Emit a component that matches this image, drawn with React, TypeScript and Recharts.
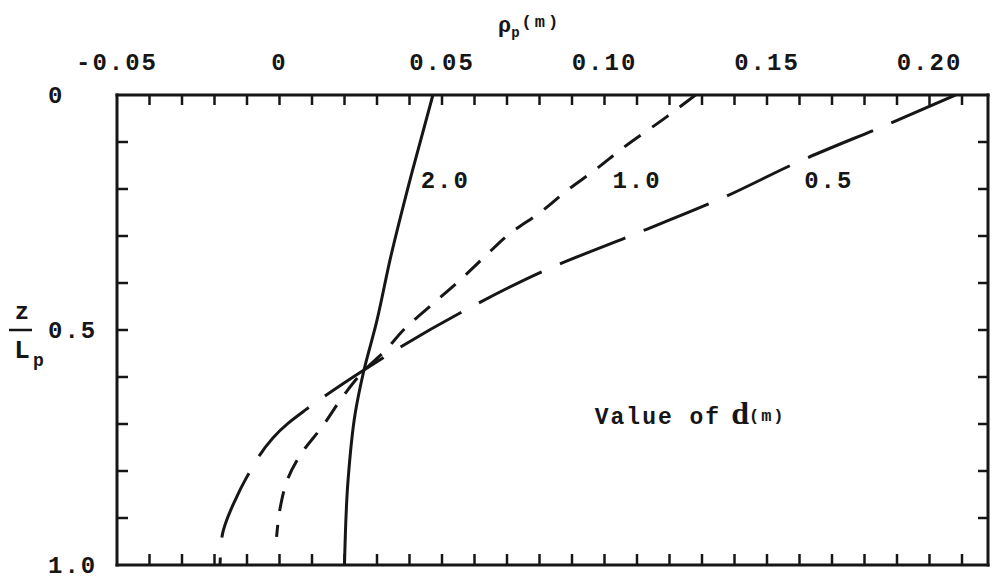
import { ScatterChart, Scatter, XAxis, YAxis, ReferenceDot } from "recharts";

// rho_p (m) along x, z/Lp down the y axis
const rhoTicks = [
  -0.05, -0.04, -0.03, -0.02, -0.01, 0, 0.01, 0.02, 0.03, 0.04, 0.05, 0.06, 0.07,
  0.08, 0.09, 0.1, 0.11, 0.12, 0.13, 0.14, 0.15, 0.16, 0.17, 0.18, 0.19, 0.2, 0.21
];
const rhoLabelValues = [-0.05, 0, 0.05, 0.1, 0.15, 0.2];
const rhoLabelTexts = ["-0.05", "0", "0.05", "0.10", "0.15", "0.20"];

const zTicks = [0, 0.1, 0.2, 0.3, 0.4, 0.5, 0.6, 0.7, 0.8, 0.9, 1.0];
const zLabelValues = [0, 0.5, 1.0];
const zLabelTexts = ["0", "0.5", "1.0"];

// d = 2.0 m (solid)
const zD20 = [0, 0.166, 0.345, 0.485, 0.591, 0.677, 0.819, 1.0];
const rhoD20 = [0.0472, 0.0407, 0.0342, 0.0298, 0.0258, 0.0233, 0.0211, 0.02];

// d = 1.0 m (short dash)
const zD10 = [0, 0.047, 0.111, 0.16, 0.202, 0.251, 0.294, 0.345, 0.394, 0.443, 0.494, 0.549, 0.585, 0.634, 0.706, 0.762, 0.819, 0.868, 0.94];
const rhoD10 = [0.128, 0.119, 0.106, 0.097, 0.0887, 0.08, 0.071, 0.063, 0.0555, 0.0474, 0.039, 0.0318, 0.0262, 0.0203, 0.0131, 0.0068, 0.0024, 0.0005, -0.0009];

// d = 0.5 m (long dash)
const zD05 = [0, 0.06, 0.138, 0.223, 0.294, 0.372, 0.457, 0.585, 0.67, 0.698, 0.821, 0.857, 0.94, 1.0];
const rhoD05 = [0.208, 0.188, 0.161, 0.135, 0.11, 0.082, 0.0574, 0.026, 0.008, 0.0027, -0.0107, -0.0133, -0.0177, -0.0183];

// curve annotations
const annoTexts = ["2.0", "1.0", "0.5"];
const annoRho = [0.051, 0.11, 0.169];
const annoZ = [0.198, 0.198, 0.198];

const INK = "#161616";
const MONO = "'Liberation Mono', 'DejaVu Sans Mono', monospace";

const toPoints = (rho: number[], z: number[]) => rho.map((r, i) => ({ rho: r, z: z[i] }));

const labelFor = (v: number, values: number[], texts: string[]) => {
  const i = values.findIndex((lv) => Math.abs(lv - v) < 1e-6);
  return i >= 0 ? texts[i] : null;
};

const TopTick = (props: any) => {
  const { x, y, payload } = props;
  const label = labelFor(payload.value, rhoLabelValues, rhoLabelTexts);
  const edge = Math.abs(payload.value - rhoTicks[0]) < 1e-6;
  return (
    <g>
      {!edge && <line x1={x} y1={y} x2={x} y2={y + 10} stroke={INK} strokeWidth={2.5} />}
      {label && (
        <text x={x} y={y - 25} textAnchor="middle" fontFamily={MONO} fontWeight="bold" fontSize={24} letterSpacing={2} fill={INK}>
          {label}
        </text>
      )}
    </g>
  );
};

const BottomTick = (props: any) => {
  const { x, y, payload } = props;
  if (Math.abs(payload.value - rhoTicks[0]) < 1e-6) return <g />;
  return <line x1={x} y1={y} x2={x} y2={y - 11} stroke={INK} strokeWidth={2.5} />;
};

const LeftTick = (props: any) => {
  const { x, y, payload } = props;
  const label = labelFor(payload.value, zLabelValues, zLabelTexts);
  const edge = payload.value < 1e-6 || payload.value > 1 - 1e-6;
  return (
    <g>
      {!edge && <line x1={x} y1={y} x2={x + 11} y2={y} stroke={INK} strokeWidth={2.5} />}
      {label && (
        <text x={x - 69} y={y + 8} textAnchor="start" fontFamily={MONO} fontWeight="bold" fontSize={24} letterSpacing={2} fill={INK}>
          {label}
        </text>
      )}
    </g>
  );
};

const RightTick = (props: any) => {
  const { x, y, payload } = props;
  if (payload.value < 1e-6 || payload.value > 1 - 1e-6) return <g />;
  return <line x1={x} y1={y} x2={x - 10} y2={y} stroke={INK} strokeWidth={2.5} />;
};

const TitleLabel = (props: any) => {
  const { viewBox } = props;
  const x0 = viewBox.x + 381;
  return (
    <text x={x0} y={32} fontFamily={MONO} fontWeight="bold" fontSize={22} fill={INK}>
      ρ
      <tspan dy={5} fontSize={14}>p</tspan>
      <tspan dy={-10} dx={2} fontSize={17} letterSpacing={3}>(m)</tspan>
    </text>
  );
};

const ZLabel = (props: any) => {
  const { viewBox } = props;
  const ax = viewBox.x + viewBox.width;
  const cy = viewBox.y + viewBox.height / 2;
  return (
    <g fontFamily={MONO} fontWeight="bold" fill={INK}>
      <text x={ax - 95} y={cy - 11} textAnchor="middle" fontSize={24}>z</text>
      <line x1={ax - 108} y1={cy} x2={ax - 85} y2={cy} stroke={INK} strokeWidth={2.5} />
      <text x={ax - 95} y={cy + 28} textAnchor="middle" fontSize={26}>L</text>
      <text x={ax - 84} y={cy + 36} fontSize={18}>p</text>
    </g>
  );
};

const axisLine = { stroke: INK, strokeWidth: 3, strokeLinecap: "square" as const };
const noShape = () => <g />;

export default function App() {
  const d20 = toPoints(rhoD20, zD20);
  const d10 = toPoints(rhoD10, zD10);
  const d05 = toPoints(rhoD05, zD05);

  return (
    <div style={{ position: "absolute", left: 0, top: 0, width: 993, height: 579, background: "#fff" }}>
      <ScatterChart width={993} height={579} margin={{ top: 94, right: 4, bottom: 13, left: 116 }}>
        <XAxis
          xAxisId="top"
          orientation="top"
          type="number"
          dataKey="rho"
          domain={[-0.05, 0.218]}
          allowDataOverflow
          ticks={rhoTicks}
          interval={0}
          height={1}
          tickSize={0}
          tickMargin={0}
          tickLine={false}
          axisLine={axisLine}
          tick={<TopTick />}
          label={{ content: <TitleLabel /> }}
        />
        <XAxis
          xAxisId="bottom"
          orientation="bottom"
          type="number"
          dataKey="rho"
          domain={[-0.05, 0.218]}
          allowDataOverflow
          ticks={rhoTicks}
          interval={0}
          height={1}
          tickSize={0}
          tickMargin={0}
          tickLine={false}
          axisLine={axisLine}
          tick={<BottomTick />}
        />
        <YAxis
          yAxisId="left"
          orientation="left"
          type="number"
          dataKey="z"
          domain={[0, 1]}
          reversed
          allowDataOverflow
          ticks={zTicks}
          interval={0}
          width={1}
          tickSize={0}
          tickMargin={0}
          tickLine={false}
          axisLine={axisLine}
          tick={<LeftTick />}
          label={{ content: <ZLabel /> }}
        />
        <YAxis
          yAxisId="right"
          orientation="right"
          type="number"
          dataKey="z"
          domain={[0, 1]}
          reversed
          allowDataOverflow
          ticks={zTicks}
          interval={0}
          width={1}
          tickSize={0}
          tickMargin={0}
          tickLine={false}
          axisLine={axisLine}
          tick={<RightTick />}
        />

        <Scatter
          data={d20}
          xAxisId="top"
          yAxisId="left"
          fill="none"
          line={{ stroke: INK, strokeWidth: 3 }}
          lineJointType="monotoneY"
          shape={noShape}
          isAnimationActive={false}
        />
        <Scatter
          data={d10}
          xAxisId="top"
          yAxisId="left"
          fill="none"
          line={{ stroke: INK, strokeWidth: 3, strokeDasharray: "20 14" }}
          lineJointType="monotoneY"
          shape={noShape}
          isAnimationActive={false}
        />
        <Scatter
          data={d05}
          xAxisId="top"
          yAxisId="left"
          fill="none"
          line={{ stroke: INK, strokeWidth: 3, strokeDasharray: "70 20" }}
          lineJointType="monotoneY"
          shape={noShape}
          isAnimationActive={false}
        />

        {annoTexts.map((t, i) => (
          <ReferenceDot
            key={t}
            xAxisId="top"
            yAxisId="left"
            x={annoRho[i]}
            y={annoZ[i]}
            r={0}
            ifOverflow="visible"
            shape={(p: any) => (
              <text x={p.cx} y={p.cy} textAnchor="middle" fontFamily={MONO} fontWeight="bold" fontSize={24} letterSpacing={2} fill={INK}>
                {t}
              </text>
            )}
          />
        ))}
        <ReferenceDot
          xAxisId="top"
          yAxisId="left"
          x={0.097}
          y={0.7}
          r={0}
          ifOverflow="visible"
          shape={(p: any) => (
            <text x={p.cx} y={p.cy} fontFamily={MONO} fontWeight="bold" fontSize={23} letterSpacing={2} fill={INK}>
              Value of
              <tspan fontFamily="'Liberation Serif', serif" fontSize={32} dx={10} letterSpacing={0}>d</tspan>
              <tspan fontSize={17} dy={-3} letterSpacing={2}>(m)</tspan>
            </text>
          )}
        />
      </ScatterChart>
    </div>
  );
}
